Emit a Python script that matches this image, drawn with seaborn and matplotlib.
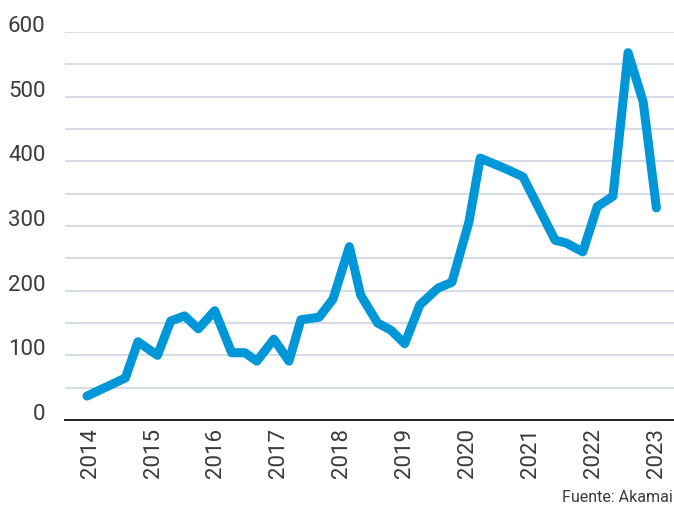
import matplotlib
matplotlib.use("Agg")
import matplotlib.pyplot as plt
import seaborn as sns

years = [2013.95, 2014.56, 2014.76, 2015.07, 2015.28, 2015.5, 2015.72, 2015.98,
         2016.25, 2016.46, 2016.65, 2016.92, 2017.16, 2017.35, 2017.64, 2017.86,
         2018.12, 2018.3, 2018.57, 2018.78, 2019.0, 2019.24, 2019.53, 2019.75,
         2020.02, 2020.2, 2020.64, 2020.88, 2021.39, 2021.56, 2021.83, 2022.06,
         2022.31, 2022.55, 2022.79, 2023.0]
values = [37, 65, 121, 100, 153, 161, 141, 169,
          104, 104, 91, 125, 91, 155, 159, 187,
          268, 193, 150, 139, 118, 178, 204, 213,
          306, 405, 387, 376, 278, 274, 260, 330,
          346, 568, 492, 328]
year_ticks = list(range(2014, 2024))
y_ticks = list(range(0, 601, 100))
source = "Fuente: Akamai"

sns.set_theme(style="white")
plt.rcParams["font.family"] = ["Roboto", "DejaVu Sans"]

fig = plt.figure(figsize=(6.74, 5.13), dpi=100)
ax = fig.add_axes([0.0964, 0.1813, 0.9036, 0.7563])

sns.lineplot(x=years, y=values, ax=ax, color="#0097d8", linewidth=6.5,
             solid_joinstyle="round", solid_capstyle="round", clip_on=False, zorder=3)

ax.set_xlim(2013.6, 2023.28)
ax.set_ylim(0, 600)

ax.set_yticks(y_ticks)
ax.set_yticks(range(50, 601, 100), minor=True)
ax.set_yticklabels([str(v) for v in y_ticks], va="baseline")
ax.set_xticks(year_ticks)
ax.set_xticklabels([str(y) for y in year_ticks], rotation=90, va="top", ha="center")

ax.tick_params(axis="y", which="both", length=0, pad=14, labelsize=16, labelcolor="#3a3a3a")
ax.tick_params(axis="x", length=0, pad=6, labelsize=16, labelcolor="#3a3a3a")

ax.grid(axis="y", which="both", color="#d3dde6", linewidth=1.4)
ax.grid(axis="x", visible=False)
for side in ["top", "right", "left"]:
    ax.spines[side].set_visible(False)
ax.spines["bottom"].set_color("#222222")
ax.spines["bottom"].set_linewidth(1.4)
ax.spines["bottom"].set_zorder(4)
ax.set_xlabel("")
ax.set_ylabel("")

fig.text(0.998, 1 - 498 / 513, source, fontsize=11.5, color="#3a3a3a",
         ha="right", va="center")

fig.savefig("out.png", dpi=100)
